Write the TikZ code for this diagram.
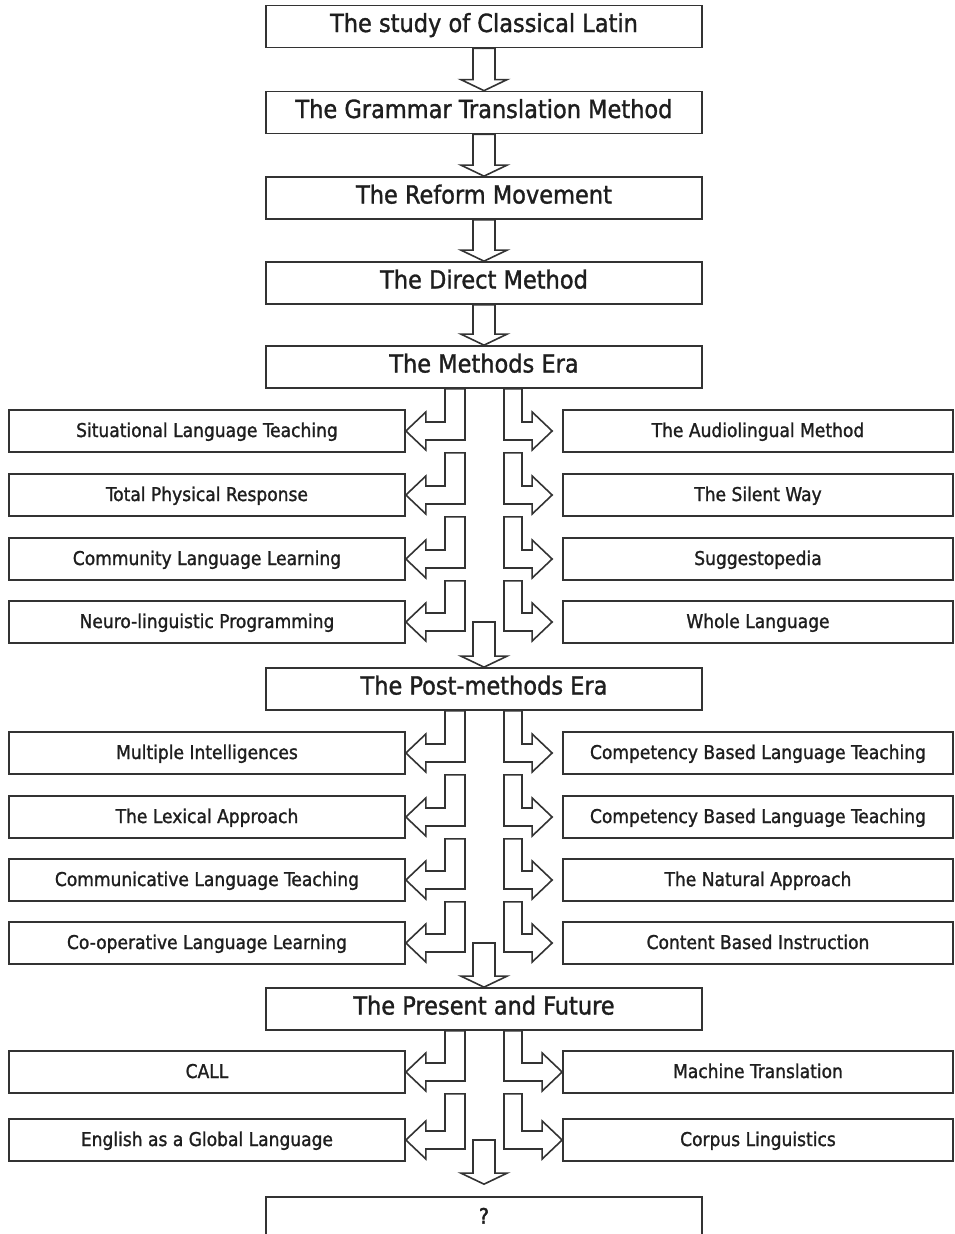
\documentclass[tikz,border=0pt]{standalone}
\usepackage{fontspec}
\setmainfont{DejaVu Sans Condensed}[FakeBold=1.3]
\newfontfamily\qfont{DejaVu Sans Condensed}[FakeBold=2.5]
\usetikzlibrary{calc}
\definecolor{ln}{HTML}{333333}
\definecolor{tx}{HTML}{1E1E1E}
\tikzset{
 mainbox/.style={draw=ln, line width=1.7pt, minimum width=436pt, minimum height=42pt, inner sep=0pt, text=tx, text height=18.5pt, text depth=7.5pt, font=\fontsize{25}{29}\selectfont},
 sidebox/.style={draw=ln, line width=1.7pt, minimum height=42pt, inner sep=0pt, text=tx, text height=14pt, text depth=2pt, font=\fontsize{19}{22}\selectfont},
 leftbox/.style={sidebox, minimum width=396pt},
 rightbox/.style={sidebox, minimum width=390pt},
 arr/.style={draw=ln, line width=1.6pt, fill=white, line join=miter},
}
% left bent arrow: #1 node above, #2 target, #3 main column node
\newcommand\lbent[3]{%
\draw[arr] let \p1=(#2.east), \p2=(#1.south), \p3=(#3.center) in
 (\x3-39pt,\y2) -- (\x3-19pt,\y2) -- (\x3-19pt,\y1-9pt) -- (\x1+20pt,\y1-9pt) -- (\x1+20pt,\y1-19pt) -- (\x1,\y1) -- (\x1+20pt,\y1+19pt) -- (\x1+20pt,\y1+9pt) -- (\x3-39pt,\y1+9pt) -- cycle;}
% right bent arrow: #4 gap to target
\newcommand\rbent[4]{%
\draw[arr] let \p1=(#2.west), \p2=(#1.south), \p3=(#3.center) in
 (\x3+20pt,\y2) -- (\x3+20pt,\y1-9pt) -- (\x1-#4-20pt,\y1-9pt) -- (\x1-#4-20pt,\y1-19pt) -- (\x1-#4,\y1) -- (\x1-#4-20pt,\y1+19pt) -- (\x1-#4-20pt,\y1+9pt) -- (\x3+38pt,\y1+9pt) -- (\x3+38pt,\y2) -- cycle;}
% down arrow: #1 start point, #2 target node, #3 gap
\newcommand\darr[3]{%
\draw[arr] let \p1=(#1), \p2=(#2.north) in
 (\x1-11pt,\y1) -- (\x1-11pt,\y2+#3+11pt) -- (\x1-23pt,\y2+#3+11pt) -- (\x1,\y2+#3) -- (\x1+23pt,\y2+#3+11pt) -- (\x1+11pt,\y2+#3+11pt) -- (\x1+11pt,\y1) -- cycle;}
\begin{document}
\begin{tikzpicture}[x=1pt,y=-1pt]
\useasboundingbox (0,0) rectangle (954,1234);
\clip (0,0) rectangle (954,1234);
\fill[white] (0,0) rectangle (954,1234);
% main column
\node[mainbox] (m1) at (484,26.5) {The study of Classical Latin};
\node[mainbox] (m2) at (484,112.5) {The Grammar Translation Method};
\node[mainbox] (m3) at (484,198) {The Reform Movement};
\node[mainbox] (m4) at (484,283) {The Direct Method};
\node[mainbox] (m5) at (484,367) {The Methods Era};
\node[mainbox] (m6) at (484,689) {The Post-methods Era};
\node[mainbox] (m7) at (484,1009) {The Present and Future};
\node[mainbox, minimum height=38pt, text height=15pt, text depth=0pt, font=\qfont\fontsize{21}{24}\selectfont] (m8) at (484,1216) {?};
% methods era
\node[leftbox] (a1) at (207,431) {Situational Language Teaching};
\node[leftbox] (a2) at (207,495) {Total Physical Response};
\node[leftbox] (a3) at (207,559) {Community Language Learning};
\node[leftbox] (a4) at (207,622) {Neuro-linguistic Programming};
\node[rightbox] (b1) at (758,431) {The Audiolingual Method};
\node[rightbox] (b2) at (758,495) {The Silent Way};
\node[rightbox] (b3) at (758,559) {Suggestopedia};
\node[rightbox] (b4) at (758,622) {Whole Language};
% post-methods era
\node[leftbox] (c1) at (207,753) {Multiple Intelligences};
\node[leftbox] (c2) at (207,817) {The Lexical Approach};
\node[leftbox] (c3) at (207,880) {Communicative Language Teaching};
\node[leftbox] (c4) at (207,943) {Co-operative Language Learning};
\node[rightbox] (d1) at (758,753) {Competency Based Language Teaching};
\node[rightbox] (d2) at (758,817) {Competency Based Language Teaching};
\node[rightbox] (d3) at (758,880) {The Natural Approach};
\node[rightbox] (d4) at (758,943) {Content Based Instruction};
% present and future
\node[leftbox] (e1) at (207,1072) {CALL};
\node[leftbox] (e2) at (207,1140) {English as a Global Language};
\node[rightbox] (f1) at (758,1072) {Machine Translation};
\node[rightbox] (f2) at (758,1140) {Corpus Linguistics};
% down arrows
\darr{m1.south}{m2}{0pt}
\darr{m2.south}{m3}{0pt}
\darr{m3.south}{m4}{0pt}
\darr{m4.south}{m5}{0pt}
\darr{m5 |- a4.center}{m6}{0pt}
\darr{m6 |- c4.center}{m7}{0pt}
\darr{m7 |- e2.center}{m8}{12pt}
% bent arrows
\lbent{m5}{a1}{m5} \lbent{a1}{a2}{m5} \lbent{a2}{a3}{m5} \lbent{a3}{a4}{m5}
\rbent{m5}{b1}{m5}{10pt} \rbent{b1}{b2}{m5}{10pt} \rbent{b2}{b3}{m5}{10pt} \rbent{b3}{b4}{m5}{10pt}
\lbent{m6}{c1}{m6} \lbent{c1}{c2}{m6} \lbent{c2}{c3}{m6} \lbent{c3}{c4}{m6}
\rbent{m6}{d1}{m6}{10pt} \rbent{d1}{d2}{m6}{10pt} \rbent{d2}{d3}{m6}{10pt} \rbent{d3}{d4}{m6}{10pt}
\lbent{m7}{e1}{m7} \lbent{e1}{e2}{m7}
\rbent{m7}{f1}{m7}{0pt} \rbent{f1}{f2}{m7}{0pt}
\end{tikzpicture}
\end{document}
